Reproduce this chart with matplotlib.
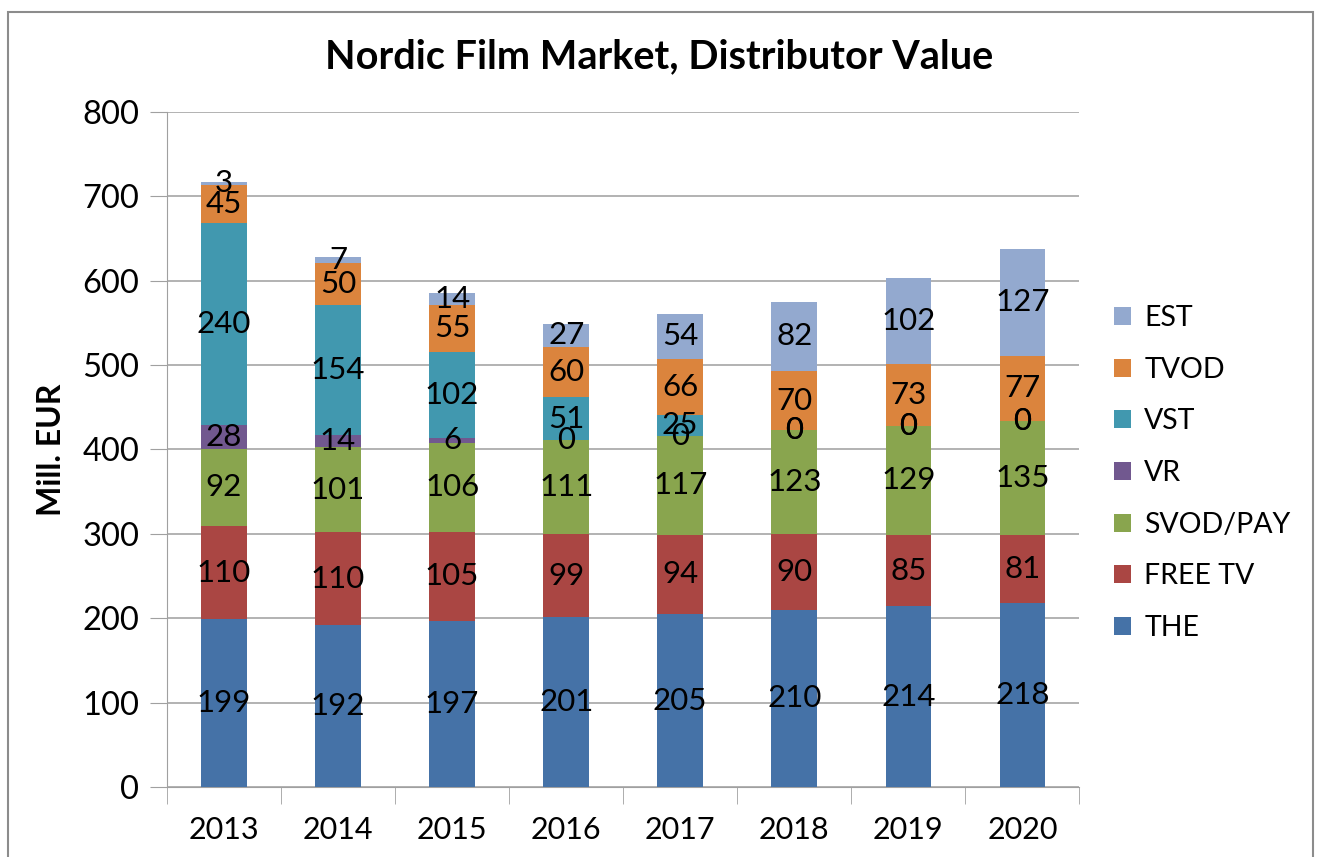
import matplotlib.pyplot as plt
import numpy as np
from matplotlib.patches import Rectangle

plt.rcParams['font.family'] = ['Lato', 'DejaVu Sans']

years = ["2013", "2014", "2015", "2016", "2017", "2018", "2019", "2020"]
series = ["THE", "FREE TV", "SVOD/PAY", "VR", "VST", "TVOD", "EST"]
the = [199, 192, 197, 201, 205, 210, 214, 218]
free_tv = [110, 110, 105, 99, 94, 90, 85, 81]
svod_pay = [92, 101, 106, 111, 117, 123, 129, 135]
vr = [28, 14, 6, 0, 0, 0, 0, 0]
vst = [240, 154, 102, 51, 25, 0, 0, 0]
tvod = [45, 50, 55, 60, 66, 70, 73, 77]
est = [3, 7, 14, 27, 54, 82, 102, 127]
colors = ["#4572A7", "#AA4643", "#89A54E", "#71588F", "#4198AF", "#DB843D", "#93A9CF"]

values = [the, free_tv, svod_pay, vr, vst, tvod, est]

fig = plt.figure(figsize=(13.18, 8.57), dpi=100)
ax = fig.add_axes([0.1267, 0.0817, 0.6923, 0.7876])

# outer chart frame
fig.patches.append(Rectangle((8 / 1318, -0.05), 1305 / 1318, 1.05 - 12 / 857,
                             transform=fig.transFigure, fill=False,
                             edgecolor="#8c8c8c", linewidth=1.5))

x = np.arange(len(years))
bottom = np.zeros(len(years))
handles = []
for name, vals, col in zip(series, values, colors):
    vals = np.array(vals)
    h = ax.bar(x, vals, 0.4, bottom=bottom, color=col, label=name, zorder=3)
    handles.append(h)
    for xi, b, v in zip(x, bottom, vals):
        ax.text(xi, b + v / 2, str(v), ha="center", va="center",
                fontsize=22.5, color="black", zorder=4)
    bottom = bottom + vals

ax.set_xlim(-0.5, len(years) - 0.5)
ax.set_ylim(0, 800)
ax.set_yticks(np.arange(0, 801, 100))
ax.set_xticks(x)
ax.set_xticklabels(years)
ax.set_xticks(np.arange(-0.5, len(years), 1), minor=True)
ax.tick_params(axis="x", which="major", length=0, labelsize=22, pad=21)
ax.tick_params(axis="x", which="minor", length=12, color="#a0a0a0")
ax.tick_params(axis="y", length=12, color="#a0a0a0", labelsize=23.5, pad=8)
ax.yaxis.grid(True, color="#a6a6a6", linewidth=1.2, zorder=0)
for s in ["top", "right"]:
    ax.spines[s].set_visible(False)
ax.spines["left"].set_color("#a0a0a0")
ax.spines["bottom"].set_color("#a0a0a0")

ax.set_ylabel("Mill. EUR", fontsize=23, fontweight="bold", labelpad=12)
fig.suptitle("Nordic Film Market, Distributor Value", fontsize=28.5,
             fontweight="bold", y=0.955)

leg = fig.legend(handles[::-1], series[::-1], loc="center left",
                 bbox_to_anchor=(0.826, 0.448), frameon=False, fontsize=20.5,
                 handlelength=0.6, handleheight=0.6, handletextpad=0.45,
                 labelspacing=0.9)

fig.savefig("out.png", dpi=100)
